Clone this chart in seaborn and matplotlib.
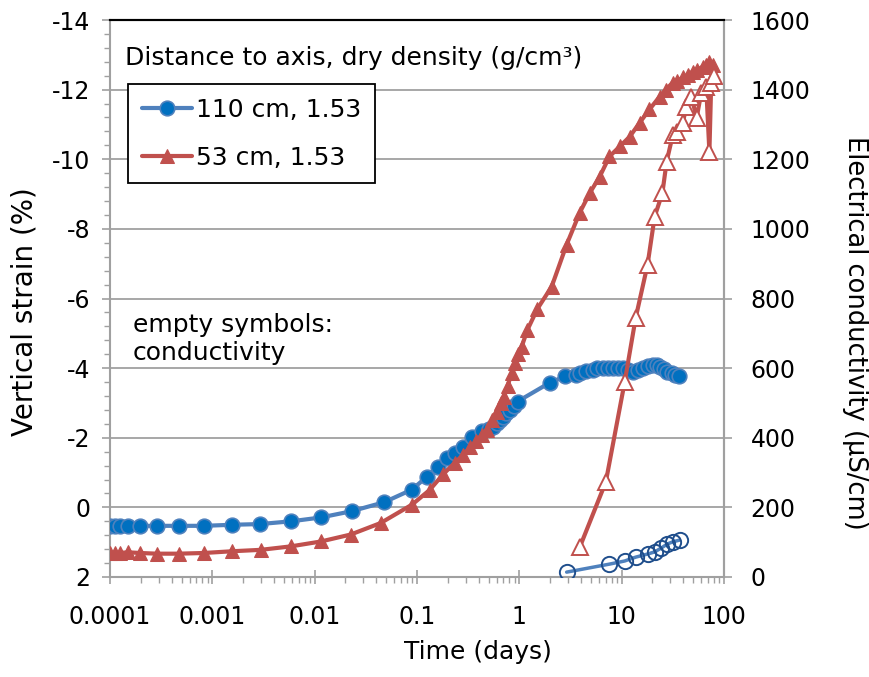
import matplotlib
matplotlib.use("Agg")
import matplotlib.pyplot as plt
import seaborn as sns
import pandas as pd
from matplotlib.ticker import FixedLocator, FixedFormatter, LogLocator, NullFormatter, MultipleLocator

# ---------------- data ----------------
t_110 = [1.0e-4, 1.12e-4, 1.25e-4, 1.5e-4, 1.96e-4, 2.9e-4, 4.7e-4, 8.3e-4, 1.55e-3, 2.9e-3,
         5.9e-3, 0.0115, 0.023, 0.048, 0.089, 0.125, 0.16, 0.195, 0.234, 0.28, 0.343, 0.43,
         0.50, 0.55, 0.60, 0.65, 0.69, 0.74, 0.81, 0.88, 0.96, 1.98, 2.78, 3.6, 3.9, 4.5, 5.2,
         5.8, 6.5, 7.3, 8.2, 9.2, 10.3, 11.5, 12.9, 14.5, 16.2, 18.2, 20.3, 22.0, 23.8, 26.0,
         28.0, 31.0, 33.5, 36.0]
strain_110 = [0.53, 0.53, 0.53, 0.53, 0.53, 0.53, 0.53, 0.53, 0.50, 0.48,
              0.40, 0.29, 0.11, -0.15, -0.51, -0.88, -1.17, -1.43, -1.57, -1.74, -2.03, -2.18,
              -2.25, -2.32, -2.42, -2.52, -2.61, -2.70, -2.81, -2.92, -3.04, -3.58, -3.76, -3.81,
              -3.87, -3.92, -3.96, -3.99, -4.01, -4.01, -4.01, -4.00, -3.99, -3.95, -3.90, -3.95,
              -4.01, -4.06, -4.10, -4.08, -4.04, -3.98, -3.90, -3.85, -3.80, -3.76]

t_53 = [1.0e-4, 1.12e-4, 1.25e-4, 1.49e-4, 1.96e-4, 2.86e-4, 4.7e-4, 8.3e-4, 1.57e-3, 2.97e-3,
        5.86e-3, 0.0115, 0.0225, 0.0441, 0.0895, 0.133, 0.18, 0.234, 0.28, 0.33, 0.38, 0.43,
        0.48, 0.54, 0.60, 0.66, 0.71, 0.77, 0.84, 0.91, 0.98, 1.05, 1.2, 1.5, 2.07, 2.9, 3.9,
        4.9, 6.1, 7.6, 9.6, 12.0, 15.0, 18.7, 23.5, 27.0, 31.5, 35.0, 39.6, 44.0, 49.6, 55.0,
        62.0, 67.0, 72.0, 78.0]
strain_53 = [1.31, 1.31, 1.31, 1.29, 1.31, 1.33, 1.33, 1.31, 1.26, 1.22,
             1.12, 0.98, 0.78, 0.45, -0.08, -0.50, -0.95, -1.28, -1.50, -1.72, -1.90, -2.08,
             -2.23, -2.50, -2.75, -3.00, -3.18, -3.50, -3.85, -4.15, -4.40, -4.60, -5.10, -5.70,
             -6.34, -7.55, -8.47, -9.04, -9.50, -10.08, -10.37, -10.65, -11.05, -11.43, -11.80,
             -12.00, -12.20, -12.25, -12.35, -12.42, -12.52, -12.57, -12.66, -12.70, -12.78, -12.72]

t_cond_110 = [2.9, 7.6, 10.7, 13.7, 17.9, 21.0, 24.3, 28.0, 31.6, 36.8]
cond_110 = [14, 37, 46, 57, 66, 72, 83, 95, 101, 106]

t_cond_53 = [3.9, 7.0, 10.7, 13.7, 17.9, 21.0, 25.0, 27.5, 31.6, 35.0, 39.5, 43.0, 48.0,
             54.0, 60.0, 67.0, 72.0, 75.0, 79.0]
cond_53 = [86, 273, 560, 744, 897, 1035, 1103, 1193, 1270, 1279, 1305, 1351, 1380,
           1319, 1391, 1408, 1221, 1420, 1440]

x_ticks = [1e-4, 1e-3, 1e-2, 1e-1, 1, 10, 100]
x_tick_labels = ["0.0001", "0.001", "0.01", "0.1", "1", "10", "100"]
y_left_ticks = [-14, -12, -10, -8, -6, -4, -2, 0, 2]
y_right_ticks = [0, 200, 400, 600, 800, 1000, 1200, 1400, 1600]

label_110 = "110 cm, 1.53"
label_53 = "53 cm, 1.53"

# ---------------- style ----------------
sns.set_theme(style="white")
plt.rcParams['font.family'] = ['DejaVu Sans']
plt.rcParams['axes.unicode_minus'] = False
plt.rcParams['text.color'] = 'black'
FS_TICK = 17
FS = 18
GREY = "#A0A0A0"
BLUE_LINE = "#4F81BD"
BLUE_FILL = "#0070C0"
BLUE_DARK = "#1F4E8C"
RED = "#C0504D"

W, H = 869, 677
fig = plt.figure(figsize=(W / 100, H / 100), dpi=100)
ax = fig.add_axes([110 / W, 100 / H, 614 / W, 557 / H])

df110 = pd.DataFrame({"t": t_110, "s": strain_110})
df53 = pd.DataFrame({"t": t_53, "s": strain_53})
dfc110 = pd.DataFrame({"t": t_cond_110, "c": cond_110})
dfc53 = pd.DataFrame({"t": t_cond_53, "c": cond_53})

sns.lineplot(data=df110, x="t", y="s", ax=ax, sort=False, estimator=None,
             color=BLUE_LINE, lw=3, marker="o", markersize=10.5,
             markerfacecolor=BLUE_FILL, markeredgecolor=BLUE_LINE, markeredgewidth=1.2,
             label=label_110, zorder=3)
sns.lineplot(data=df53, x="t", y="s", ax=ax, sort=False, estimator=None,
             color=RED, lw=3, marker="^", markersize=10.5,
             markerfacecolor=RED, markeredgecolor=RED,
             label=label_53, zorder=4)

# ---------------- conductivity (right axis) ----------------
ax2 = ax.twinx()
sns.lineplot(data=dfc110, x="t", y="c", ax=ax2, sort=False, estimator=None,
             color=BLUE_LINE, lw=2.5, marker="o", markersize=11,
             markerfacecolor="none", markeredgecolor=BLUE_DARK, markeredgewidth=1.4,
             legend=False)
sns.lineplot(data=dfc53, x="t", y="c", ax=ax2, sort=False, estimator=None,
             color=RED, lw=3, marker="^", markersize=11,
             markerfacecolor="white", markeredgecolor=RED, markeredgewidth=1.4,
             legend=False)

ax.set_xscale("log")
ax2.set_xscale("log")
ax.set_xlim(1e-4, 100)
ax.set_ylim(2, -14)
ax2.set_ylim(0, 1600)
for a in (ax, ax2):
    a.set_xlabel("")
    a.set_ylabel("")

ax.xaxis.set_major_locator(FixedLocator(x_ticks))
ax.xaxis.set_major_formatter(FixedFormatter(x_tick_labels))
ax.xaxis.set_minor_locator(LogLocator(base=10, subs=[2, 3, 4, 5, 6, 7, 8, 9]))
ax.xaxis.set_minor_formatter(NullFormatter())
ax.yaxis.set_major_locator(FixedLocator(y_left_ticks))
ax.yaxis.set_minor_locator(MultipleLocator(0.4))
ax2.yaxis.set_major_locator(FixedLocator(y_right_ticks))

ax.yaxis.grid(True, which="major", color=GREY, lw=1.3)
ax.xaxis.grid(False)
ax2.grid(False)
ax.set_axisbelow(True)

for name, sp in ax.spines.items():
    sp.set_color(GREY)
    sp.set_linewidth(1.5)
ax.spines["top"].set_color("black")

ax.tick_params(axis="x", which="major", direction="inout", length=10, width=1.2,
               color=GREY, labelsize=FS_TICK, labelcolor="black", pad=15, bottom=True)
ax.tick_params(axis="x", which="minor", direction="out", length=4.5, width=1.0,
               color=GREY, bottom=True)
ax.tick_params(axis="y", which="major", direction="out", length=6, width=1.2,
               color=GREY, labelsize=FS_TICK, labelcolor="black", pad=8, left=True)
ax.tick_params(axis="y", which="minor", direction="out", length=4, width=1.0,
               color=GREY, left=True)

for name, sp in ax2.spines.items():
    sp.set_visible(False)
ax2.spines["right"].set_visible(True)
ax2.spines["right"].set_color(GREY)
ax2.spines["right"].set_linewidth(1.5)
ax2.spines["top"].set_visible(True)
ax2.spines["top"].set_color("black")
ax2.spines["top"].set_linewidth(1.5)
ax2.tick_params(axis="y", which="major", direction="out", length=6, width=1.2,
                color=GREY, labelsize=FS_TICK, labelcolor="black", pad=13, right=True)
ax2.tick_params(axis="y", which="minor", right=False)

# ---------------- legend & texts ----------------
handles, labels = ax.get_legend_handles_labels()
leg = ax.legend(handles, labels, loc="upper left",
                bbox_to_anchor=(128 / W, 1 - 84 / H), bbox_transform=fig.transFigure,
                frameon=True, fancybox=False, edgecolor="black", framealpha=1,
                fontsize=FS, handlelength=2.0, handletextpad=0.15, labelspacing=0.95,
                borderpad=0.55, borderaxespad=0)
leg.get_frame().set_linewidth(1.3)
for txt in leg.get_texts():
    txt.set_color("black")

fig.text(125 / W, 1 - 58 / H, "Distance to axis, dry density (g/cm³)", fontsize=FS,
         ha="left", va="center", color="black")
fig.text(133 / W, 1 - 325 / H, "empty symbols:", fontsize=FS, ha="left", va="center",
         color="black")
fig.text(133 / W, 1 - 353 / H, "conductivity", fontsize=FS, ha="left", va="center",
         color="black")
fig.text(25 / W, 1 - 312 / H, "Vertical strain (%)", fontsize=20, rotation=90,
         ha="center", va="center", color="black")
fig.text(855 / W, 1 - 333 / H, "Electrical conductivity (µS/cm)", fontsize=18.5,
         rotation=270, ha="center", va="center", color="black")
fig.text(478 / W, 1 - 652 / H, "Time (days)", fontsize=FS, ha="center", va="center",
         color="black")

fig.savefig("out.png", dpi=100)
